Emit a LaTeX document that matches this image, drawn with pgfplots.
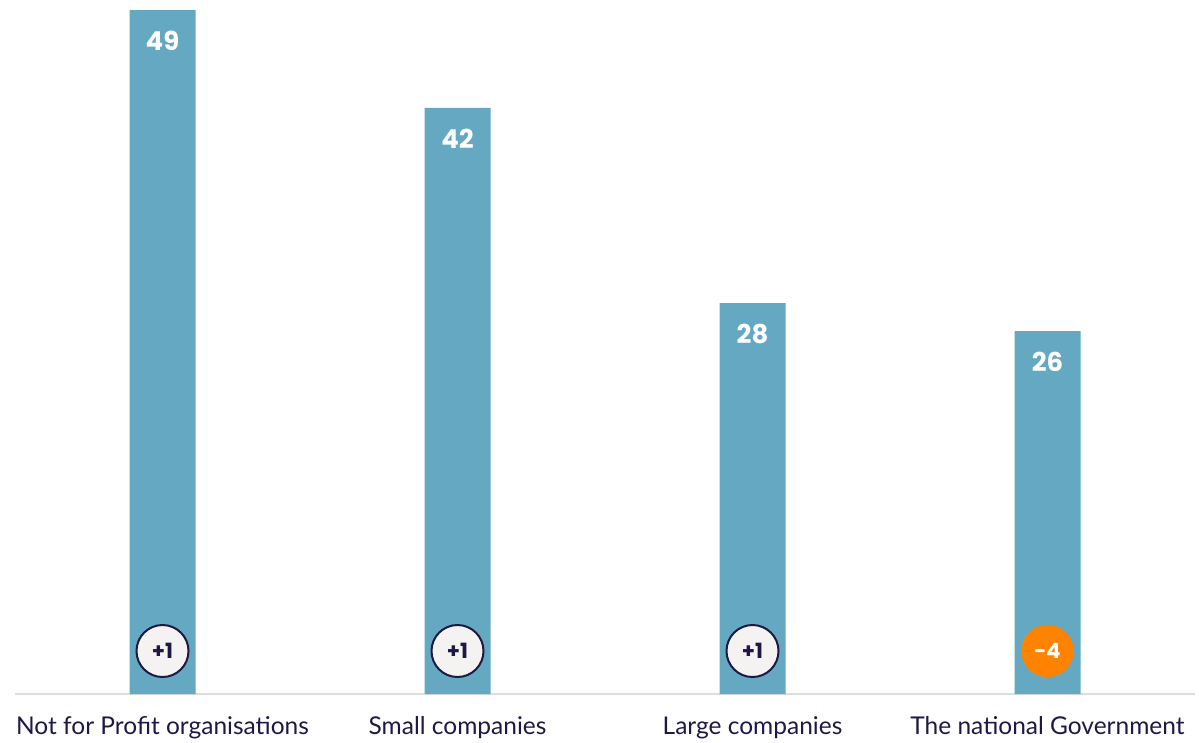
\documentclass[border=0pt]{standalone}
\usepackage{pgfplots}
\pgfplotsset{compat=1.18}
\usepackage{fontspec}
\setmainfont{Lato}
\newfontfamily\numfont{Poppins}[UprightFont=* Bold]
\definecolor{barblue}{HTML}{64A8C2}
\definecolor{navy}{HTML}{1E1845}
\definecolor{circfill}{HTML}{F4F3F1}
\definecolor{orng}{HTML}{FF8200}
\definecolor{axisgrey}{HTML}{DDDDDD}
\begin{document}
\begin{tikzpicture}
\begin{axis}[
  name=ax,
  at={(0,0)}, anchor=south west,
  scale only axis,
  width=1180pt, height=694pt,
  xmin=-0.5, xmax=3.5,
  ymin=0, ymax=49.72,
  axis y line=none,
  axis x line*=bottom,
  axis line style={axisgrey, line width=1.2pt},
  xtick={0,1,2,3},
  xticklabels={Not for Profit organisations, Small companies, Large companies, The national Government},
  major tick length=0pt,
  xticklabel style={font=\fontsize{24.5}{27}\selectfont, text=navy, yshift=-19pt},
  ytick=\empty,
  clip=false,
  /pgf/number format/assume math mode=true,
]
\addplot[ybar, bar width=66pt, fill=barblue, draw=none,
  nodes near coords,
  every node near coord/.append style={font=\numfont\fontsize{26}{28}\selectfont, text=white, anchor=center, yshift=-31pt}]
  coordinates {(0,49) (1,42) (2,28) (3,26)};
\addplot[only marks, mark=*, mark size=26pt, mark options={fill=circfill, draw=navy, line width=2pt},
  point meta=explicit symbolic, nodes near coords,
  every node near coord/.append style={font=\numfont\fontsize{21}{22}\selectfont, text=navy, anchor=center, yshift=0pt}]
  coordinates {(0,3.08)[+1] (1,3.08)[+1] (2,3.08)[+1]};
\addplot[only marks, mark=*, mark size=26pt, mark options={fill=orng, draw=orng},
  point meta=explicit symbolic, nodes near coords,
  every node near coord/.append style={font=\numfont\fontsize{21}{22}\selectfont, text=white, anchor=center}]
  coordinates {(3,3.08)[-4]};
\end{axis}
\pgfresetboundingbox
\path[use as bounding box] ([xshift=-15pt,yshift=-48pt]ax.south west) rectangle ([xshift=4pt]ax.north east);
\end{tikzpicture}
\end{document}
